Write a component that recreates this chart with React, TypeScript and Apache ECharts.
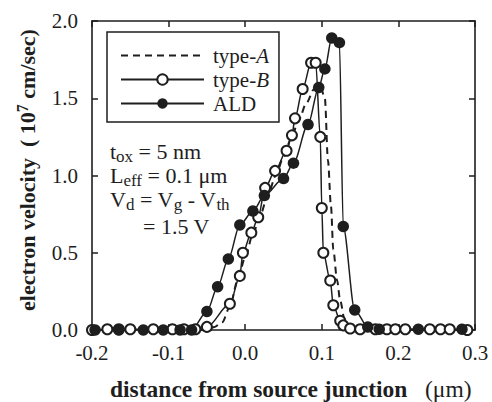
import React, { useEffect, useRef } from 'react';
import * as echarts from 'echarts';

const FONT = '"Liberation Serif", "Times New Roman", serif';
const INK = '#1e1e1e';

const seriesNames = ['type-A', 'type-B', 'ALD'];

// type-A (dashed curve)
const typeAX = [-0.2, -0.05, -0.04, -0.03, -0.02, -0.01, 0.0, 0.01, 0.02, 0.03, 0.04, 0.05, 0.06, 0.07, 0.08, 0.09, 0.098, 0.104, 0.108, 0.112, 0.115, 0.12, 0.124, 0.13, 0.14, 0.15, 0.29];
const typeAY = [0, 0, 0.02, 0.05, 0.15, 0.32, 0.47, 0.62, 0.75, 0.88, 1.0, 1.12, 1.24, 1.36, 1.47, 1.56, 1.58, 1.5, 1.1, 0.8, 0.52, 0.32, 0.19, 0.06, 0.01, 0, 0];

// type-B (open circles)
const typeBX = [-0.2, -0.18, -0.165, -0.15, -0.12, -0.095, -0.08, -0.065, -0.05, -0.02, -0.007, -0.003, 0.008, 0.017, 0.026, 0.039, 0.054, 0.061, 0.065, 0.075, 0.086, 0.092, 0.098, 0.1, 0.102, 0.111, 0.115, 0.124, 0.128, 0.137, 0.15, 0.17, 0.185, 0.196, 0.209, 0.241, 0.255, 0.267, 0.29];
const typeBY = [0, 0.005, 0.005, 0.005, 0.005, 0.005, 0.005, 0.005, 0.02, 0.17, 0.35, 0.5, 0.63, 0.73, 0.92, 1.03, 1.16, 1.26, 1.37, 1.56, 1.73, 1.73, 1.25, 0.79, 0.5, 0.32, 0.16, 0.06, 0.03, 0.01, 0.005, 0.005, 0.005, 0.005, 0.005, 0.005, 0.005, 0.005, 0];

// ALD (filled circles)
const aldX = [-0.196, -0.165, -0.133, -0.107, -0.085, -0.07, -0.05, -0.036, -0.022, -0.007, 0.01, 0.025, 0.05, 0.063, 0.082, 0.096, 0.104, 0.113, 0.123, 0.128, 0.143, 0.16, 0.175, 0.226, 0.283];
const aldY = [0, 0, 0, 0, 0, 0, 0.12, 0.28, 0.46, 0.68, 0.77, 0.87, 0.98, 1.08, 1.33, 1.57, 1.69, 1.89, 1.86, 0.67, 0.13, 0.02, 0.005, 0.005, 0.005];

const xMin = -0.2, xMax = 0.3, xStep = 0.1;
const yMin = 0, yMax = 2.0, yStep = 0.5;

const zip = (xs: number[], ys: number[]) => xs.map((x, i) => [x, ys[i]]);
const fmt = (v: number) => (Math.abs(v) < 1e-9 ? '0.0' : v.toFixed(1));

export default function App() {
  const ref = useRef<HTMLDivElement>(null);
  useEffect(() => {
    document.body.style.margin = '0';
    const chart = echarts.init(ref.current!, null, { renderer: 'svg' });
    const axisLine = { show: true, onZero: false, lineStyle: { color: INK, width: 1.6 } };
    const axisTick = { show: true, inside: true, length: 6, lineStyle: { color: INK, width: 1.5 } };
    const label = { fontSize: 21, fontFamily: FONT, color: INK };
    const sub = { fontSize: 17, fontFamily: FONT, padding: [10, 0, 0, 0], verticalAlign: 'bottom' };
    chart.setOption({
      animation: false,
      backgroundColor: '#fff',
      grid: { left: 92, right: 17, top: 21, bottom: 72 },
      xAxis: [
        { type: 'value', min: xMin, max: xMax, interval: xStep, axisLine, axisTick,
          axisLabel: { ...label, margin: 12, formatter: fmt }, splitLine: { show: false } },
        { type: 'value', position: 'top', min: xMin, max: xMax, interval: xStep, axisLine, axisTick,
          axisLabel: { show: false }, splitLine: { show: false } },
      ],
      yAxis: [
        { type: 'value', min: yMin, max: yMax, interval: yStep, axisLine, axisTick,
          axisLabel: { ...label, margin: 14, formatter: fmt }, splitLine: { show: false } },
        { type: 'value', position: 'right', min: yMin, max: yMax, interval: yStep, axisLine, axisTick,
          axisLabel: { show: false }, splitLine: { show: false } },
      ],
      legend: {
        orient: 'vertical', left: 107, top: 32,
        padding: [13, 10, 8, 13], itemGap: 3, itemWidth: 83, itemHeight: 13,
        borderColor: INK, borderWidth: 1.5, backgroundColor: '#fff',
        data: [
          { name: seriesNames[0], itemStyle: { opacity: 0 } },
          { name: seriesNames[1] },
          { name: seriesNames[2] },
        ],
        formatter: (n: string) => n === 'ALD' ? '{n|ALD}' : `{n|type-}{i|${n.slice(5)}}`,
        textStyle: {
          padding: [0, 0, 0, 4], lineHeight: 20,
          rich: {
            n: { fontSize: 21, fontFamily: FONT, color: INK, lineHeight: 20 },
            i: { fontSize: 21, fontFamily: FONT, color: INK, fontStyle: 'italic', lineHeight: 20 },
          },
        },
      },
      series: [
        { name: seriesNames[0], type: 'line', data: zip(typeAX, typeAY), symbol: 'none', smooth: 0.3, smoothMonotone: 'x',
          lineStyle: { color: INK, width: 2, type: [7, 5] }, itemStyle: { color: INK } },
        { name: seriesNames[1], type: 'line', data: zip(typeBX, typeBY), symbol: 'emptyCircle', symbolSize: 10, smooth: 0.3, smoothMonotone: 'x',
          lineStyle: { color: INK, width: 1.5 }, itemStyle: { color: INK, borderWidth: 1.3 } },
        { name: seriesNames[2], type: 'line', data: zip(aldX, aldY), symbol: 'circle', symbolSize: 11.5, smooth: 0.3, smoothMonotone: 'x',
          lineStyle: { color: INK, width: 1.5 }, itemStyle: { color: INK } },
      ],
      graphic: [
        { type: 'text', x: 110, y: 151, style: { text: 't{s|ox} = 5 nm', fill: INK, fontSize: 22, fontFamily: FONT, verticalAlign: 'middle', rich: { s: sub } } },
        { type: 'text', x: 110, y: 175, style: { text: 'L{s|eff} = 0.1 μm', fill: INK, fontSize: 22, fontFamily: FONT, verticalAlign: 'middle', rich: { s: sub } } },
        { type: 'text', x: 110, y: 199, style: { text: 'V{s|d} = V{s|g} - V{s|th}', fill: INK, fontSize: 22, fontFamily: FONT, verticalAlign: 'middle', rich: { s: sub } } },
        { type: 'text', x: 143, y: 226, style: { text: '= 1.5 V', fill: INK, fontSize: 22, fontFamily: FONT, verticalAlign: 'middle' } },
        { type: 'text', x: 110, y: 389, style: { text: '{b|distance from source junction}{n|   (μm)}', fill: INK, verticalAlign: 'middle',
          rich: { b: { fontSize: 23.5, fontWeight: 'bold', fontFamily: FONT }, n: { fontSize: 23.5, fontFamily: FONT } } } },
        { type: 'text', x: 27, y: 170, rotation: Math.PI / 2, style: { text: '{b|electron velocity  ( 10}{p|7}{b| cm/sec)}', fill: INK, align: 'center', verticalAlign: 'middle',
          rich: { b: { fontSize: 22, fontWeight: 'bold', fontFamily: FONT }, p: { fontSize: 16, fontWeight: 'bold', fontFamily: FONT, padding: [0, 0, 10, 0], verticalAlign: 'top' } } } },
      ],
    });
    return () => chart.dispose();
  }, []);
  return <div ref={ref} style={{ width: 492, height: 402, background: '#fff' }} />;
}
